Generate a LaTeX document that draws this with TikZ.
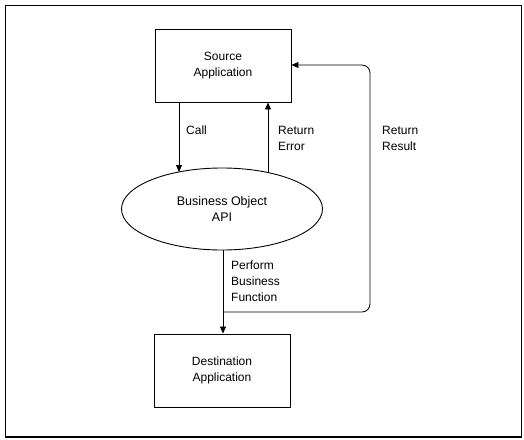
\documentclass[tikz,border=0pt]{standalone}
\usepackage{fontspec}
\setmainfont{Liberation Sans}
\usetikzlibrary{arrows.meta,shapes.geometric}
\begin{document}
\begin{tikzpicture}[x=1pt,y=-1pt,
  box/.style={draw,line width=0.9pt,minimum width=136pt,minimum height=73pt,align=center,font=\fontsize{12}{16}\selectfont},
  lbl/.style={align=left,anchor=north west,inner sep=0pt,font=\fontsize{12}{16}\selectfont},
  conn/.style={line width=0.8pt,-{Triangle[length=7pt,width=6pt]}}]
\useasboundingbox (0,0) rectangle (524,439);
\draw[line width=1.4pt] (5.5,5.5) rectangle (521.5,437);
\node[box] (src) at (223,65.5) {Source\\Application};
\node[box] (dst) at (222,370.5) {Destination\\Application};
\node[draw,ellipse,line width=0.9pt,minimum width=201pt,minimum height=82pt,align=center,font=\fontsize{12.5}{16}\selectfont] (api) at (222,209) {Business Object\\API};
\coordinate (cA) at (179,102);
\coordinate (cAend) at (179,172);
\coordinate (cE) at (268,102);
\coordinate (cEstart) at (268,172.5);
\coordinate (split) at (223,312);
\coordinate (rr) at (370,312);
\coordinate (rt) at (370,65);
\draw[conn] (src.south -| cA) -- (cAend);
\draw[conn] (cEstart) -- (src.south -| cE);
\draw[conn] (api.south -| split) -- (dst.north -| split);
\draw[line width=0.8pt,rounded corners=8pt,-{Triangle[length=7pt,width=6pt]}] (split) -- (rr) -- (rt) -- (src.east |- rt);
\node[lbl] (call) at (186,126) {Call};
\node[lbl] (rerr) at (278,126) {Return\\Error};
\node[lbl] (rres) at (382,126) {Return\\Result};
\node[lbl] (perf) at (231,261) {Perform\\Business\\Function};
\end{tikzpicture}
\end{document}
